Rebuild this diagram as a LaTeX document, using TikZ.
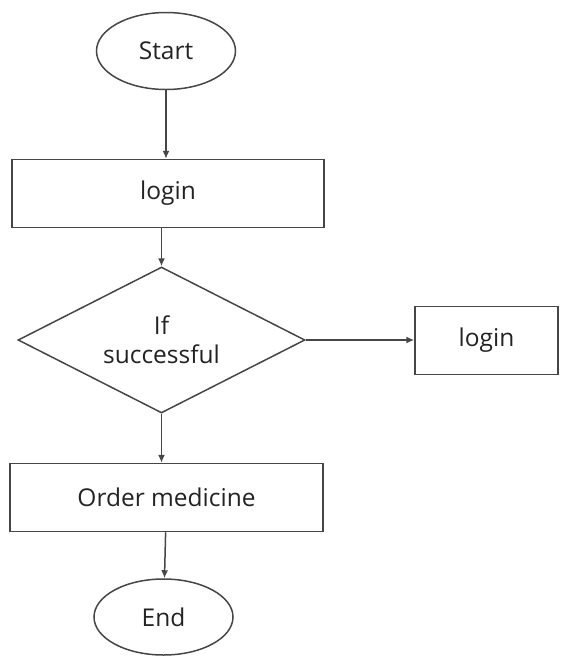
\documentclass[tikz,border=0pt]{standalone}
\usepackage{fontspec}
\setmainfont{Open Sans}
\usepackage{xcolor}
\definecolor{linegray}{RGB}{70,70,70}
\definecolor{textgray}{RGB}{35,35,35}
\usetikzlibrary{shapes.geometric,arrows.meta}

\begin{document}
\begin{tikzpicture}[x=1pt,y=-1pt,line width=1.5pt,draw=linegray,text=textgray,font=\fontsize{24.5}{29}\selectfont]
  \tikzstyle{terminal}=[ellipse,draw=linegray,minimum width=139pt,minimum height=77pt,inner sep=0pt]
  \tikzstyle{process}=[rectangle,draw=linegray,minimum height=68pt,inner sep=0pt,align=center]
  \tikzstyle{decision}=[diamond,draw=linegray,minimum width=287pt,minimum height=146pt,aspect=1.8,inner sep=0pt,align=center]
  \tikzstyle{flow}=[-{Latex[length=8pt,width=7pt]},linegray]

  \useasboundingbox (0,0) rectangle (563,657);

  \node[terminal] (start) at (166,51) {Start};
  \node[process,minimum width=312pt] (login) at (168,193.5) {login};
  \node[decision] (check) at (161.5,340) {If\\successful};
  \node[process,minimum width=143pt] (retry) at (486.5,340.5) {login};
  \node[process,minimum width=313pt] (order) at (166.5,497.5) {Order medicine};
  \node[terminal,minimum height=76pt] (finish) at (163.5,617) {End};

  \draw[flow] (start.south) -- (start.south |- login.north);
  \draw[flow] (login.south -| check.north) -- (check.north);
  \draw[flow] (check.east) -- (check.east -| retry.west);
  \draw[flow] (check.south) -- (check.south |- order.north);
  \draw[flow] (order) -- (finish);
\end{tikzpicture}
\end{document}
